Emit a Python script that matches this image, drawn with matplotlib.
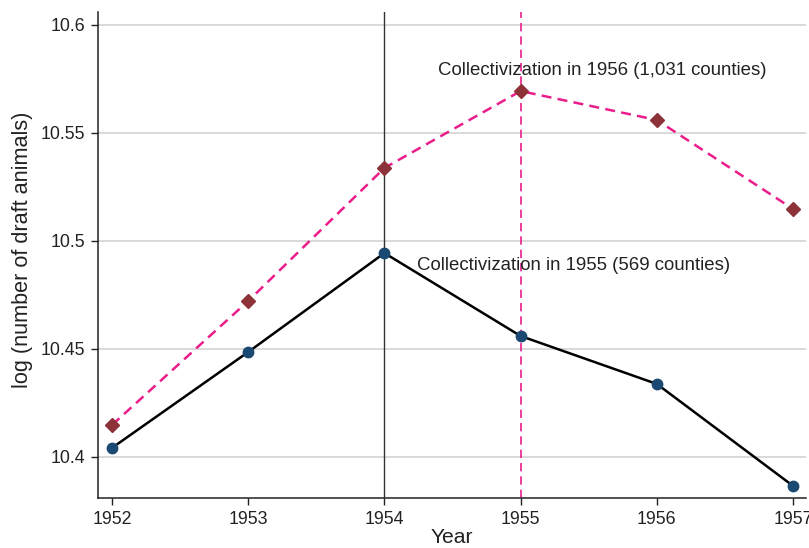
import matplotlib.pyplot as plt

years = [1952, 1953, 1954, 1955, 1956, 1957]
coll_1955 = [10.4042, 10.4486, 10.4944, 10.4560, 10.4338, 10.3866]
coll_1956 = [10.4148, 10.4722, 10.5338, 10.5694, 10.5560, 10.5148]
yticks = [10.4, 10.45, 10.5, 10.55, 10.6]
ytick_labels = ["10.4", "10.45", "10.5", "10.55", "10.6"]

plt.rcParams["font.family"] = ["Liberation Sans", "DejaVu Sans"]

fig = plt.figure(figsize=(8.09, 5.48), dpi=100)
ax = fig.add_axes([0.1211, 0.0912, 0.8752, 0.8869])

ax.set_xlim(1951.897, 1957.095)
ax.set_ylim(10.381, 10.606)

for y in yticks:
    ax.axhline(y, color="#d0d0d0", lw=1.1, zorder=0)

# event lines
ax.axvline(1954, color="#333333", lw=1.0, zorder=1)
ax.axvline(1955, color="#ea1d8a", lw=1.2, ls=(0, (5, 3)), zorder=1)

ax.plot(years, coll_1956, color="#ea1d8a", lw=1.8, ls=(0, (4, 2.5)), zorder=2)
ax.plot(years, coll_1956, ls="none", marker="D", ms=7.5, color="#8e3239", zorder=3)
ax.plot(years, coll_1955, color="black", lw=1.8, zorder=2)
ax.plot(years, coll_1955, ls="none", marker="o", ms=7.5, color="#1a4a72", zorder=3)

ax.text(1954.394, 10.5788, "Collectivization in 1956 (1,031 counties)",
        fontsize=13.4, color="#222222", va="center", ha="left")
ax.text(1954.239, 10.4885, "Collectivization in 1955 (569 counties)",
        fontsize=13.4, color="#222222", va="center", ha="left")

ax.set_xticks(years)
ax.set_xticklabels([str(y) for y in years])
ax.set_yticks(yticks)
ax.set_yticklabels(ytick_labels)
ax.tick_params(labelsize=12.8, length=5, width=1, colors="#222222", pad=4)

for side in ["top", "right"]:
    ax.spines[side].set_visible(False)
for side in ["left", "bottom"]:
    ax.spines[side].set_color("#222222")
    ax.spines[side].set_linewidth(1.1)

ax.set_xlabel("Year", fontsize=15.2, color="#222222", labelpad=0)
ax.set_ylabel("log (number of draft animals)", fontsize=15.6, color="#222222")
ax.yaxis.set_label_coords(-0.092, 0.51)

fig.savefig("out.png", dpi=100)
